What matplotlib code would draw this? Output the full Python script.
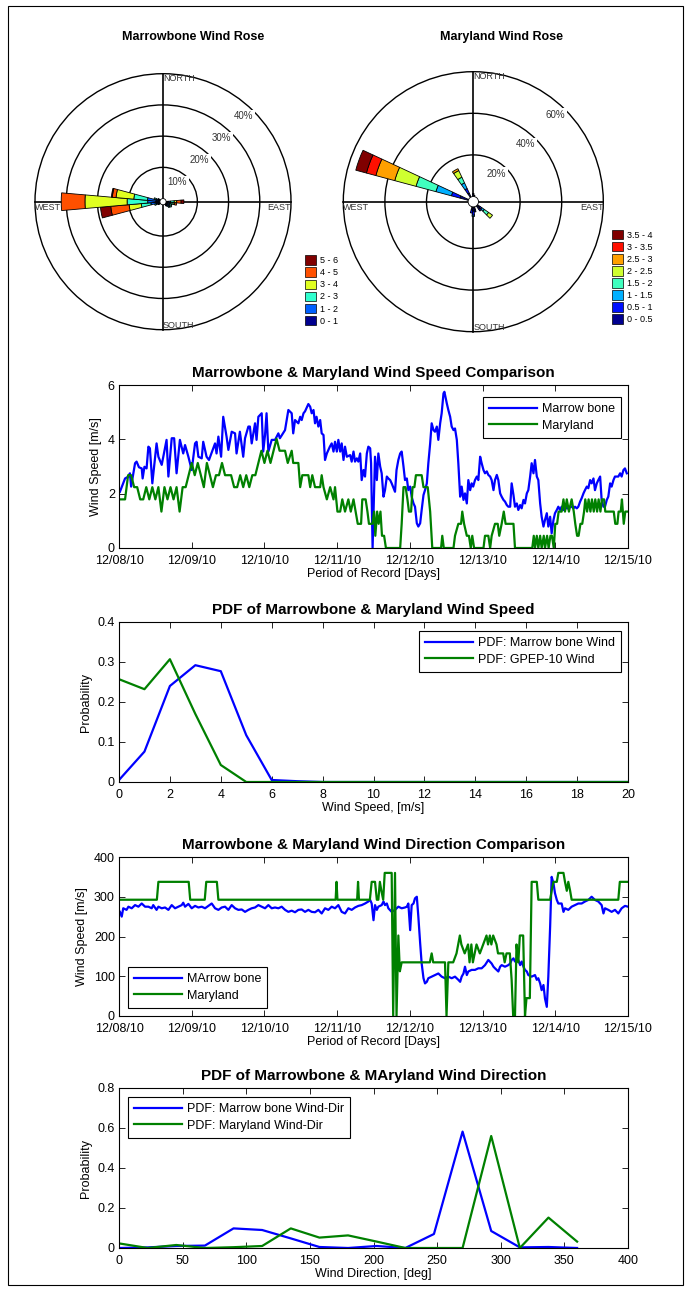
import numpy as np
import matplotlib
matplotlib.use('Agg')
import matplotlib.pyplot as plt
from matplotlib.patches import Wedge, Circle, Patch, Rectangle

plt.rcParams['font.family'] = ['Liberation Sans', 'DejaVu Sans']

# ---------------- wind rose data (percent per 10 deg sector, stacked by speed class)
mb_classes = ['0 - 1', '1 - 2', '2 - 3', '3 - 4', '4 - 5', '5 - 6']
mb_colors = ['#00008f', '#0060ff', '#30ffcf', '#e0ff20', '#ff5000', '#800000']
mb_dirs = [90, 100, 110, 120, 130, 140, 240, 250, 260, 270, 280, 290, 300]
mb_freq = [
    [0.6, 0.8, 1.2, 0.8, 1.4, 0.9],
    [0.5, 0.8, 1.0, 0.5, 0.6, 0.0],
    [0.5, 0.8, 0.6, 0.0, 0.0, 0.0],
    [0.4, 0.9, 0.8, 0.0, 0.0, 0.0],
    [0.4, 0.8, 0.5, 0.0, 0.0, 0.0],
    [0.3, 0.5, 0.0, 0.0, 0.0, 0.0],
    [0.3, 0.4, 0.0, 0.0, 0.0, 0.0],
    [0.5, 0.8, 0.5, 0.0, 0.0, 0.0],
    [1.0, 1.9, 3.1, 3.9, 5.9, 3.3],
    [1.3, 2.6, 6.6, 13.5, 7.6, 0.0],
    [1.2, 2.8, 4.4, 5.7, 1.2, 0.3],
    [0.5, 0.8, 0.7, 0.0, 0.0, 0.0],
    [0.4, 0.4, 0.0, 0.0, 0.0, 0.0],
]
mb_rings = [10, 20, 30, 40]

md_classes = ['0 - 0.5', '0.5 - 1', '1 - 1.5', '1.5 - 2', '2 - 2.5', '2.5 - 3', '3 - 3.5', '3.5 - 4']
md_colors = ['#000090', '#0010ff', '#00b0ff', '#40ffbf', '#cfff30', '#ffa000', '#ff1000', '#800000']
md_dirs = [0, 10, 130, 140, 170, 180, 190, 290, 330]
md_freq = [
    [1.0, 0.5, 0.0, 0.0, 0.0, 0.0, 0.0, 0.0],
    [0.6, 0.0, 0.0, 0.0, 0.0, 0.0, 0.0, 0.0],
    [1.5, 1.0, 1.5, 2.5, 2.3, 0.0, 0.0, 0.0],
    [2.0, 1.0, 0.0, 0.0, 0.0, 0.0, 0.0, 0.0],
    [1.5, 1.0, 0.0, 0.0, 0.0, 0.0, 0.0, 0.0],
    [2.0, 2.0, 0.6, 0.0, 0.0, 0.0, 0.0, 0.0],
    [1.5, 1.5, 0.0, 0.0, 0.0, 0.0, 0.0, 0.0],
    [4.1, 4.3, 7.7, 9.9, 10.6, 9.4, 4.7, 5.3],
    [2.0, 2.5, 3.0, 3.0, 3.5, 1.0, 0.0, 0.0],
]
md_rings = [20, 40, 60]

# ---------------- time series (hours after 12/08/10 00:00)
mb_speed = [
    (0.3, 2.07), (2.0, 2.56), (3.1, 2.63), (3.6, 2.75), (4.0, 2.26), (5.3, 3.12), (5.8, 3.18),
    (6.6, 2.97), (7.5, 2.93), (7.8, 2.56), (8.4, 2.99), (9.1, 2.93), (9.7, 3.73), (10.2, 3.67),
    (11.0, 2.38), (12.4, 3.85), (13.0, 3.36), (14.1, 3.06), (15.7, 3.98), (16.3, 2.63), (17.4, 4.04),
    (18.2, 4.04), (19.0, 2.75), (20.1, 3.98), (21.2, 3.48), (21.8, 3.79), (22.9, 3.36), (24.0, 2.87),
    (25.1, 3.85), (25.6, 3.91), (26.2, 3.36), (27.3, 3.30), (27.8, 3.91), (28.9, 3.36), (29.7, 3.24),
    (31.7, 3.85), (32.2, 3.48), (32.8, 4.10), (33.7, 3.36), (34.4, 4.83), (35.5, 4.10), (36.1, 3.61),
    (37.2, 4.28), (38.3, 4.22), (38.8, 3.48), (39.9, 4.28), (41.0, 3.36), (41.6, 4.04), (42.7, 4.47),
    (43.2, 4.47), (43.8, 3.85), (44.9, 4.59), (45.4, 3.98), (46.0, 4.83), (47.1, 4.96), (47.6, 3.55),
    (48.2, 4.16), (48.7, 4.96), (49.3, 3.55), (50.4, 3.98), (51.5, 3.98), (52.6, 4.22), (53.1, 4.04),
    (54.8, 4.34), (55.9, 5.08), (57.0, 4.96), (57.5, 4.22), (58.1, 4.71), (59.2, 4.59), (59.8, 4.83),
    (60.3, 4.71), (60.9, 4.96), (61.4, 5.03), (62.5, 5.30), (63.1, 5.20), (63.6, 4.96), (64.2, 5.08),
    (64.7, 4.59), (65.2, 4.83), (65.8, 4.47), (66.4, 4.71), (66.9, 4.22), (67.5, 4.16), (68.0, 3.24),
    (68.6, 3.48), (69.6, 3.73), (70.2, 3.85), (70.8, 3.55), (71.3, 3.91), (71.9, 3.55), (72.4, 3.98),
    (73.0, 3.55), (73.5, 3.85), (74.1, 3.24), (74.6, 3.73), (75.2, 3.36), (76.3, 3.42), (76.8, 3.18),
    (77.4, 3.55), (77.9, 3.18), (78.5, 3.30), (79.0, 3.18), (79.6, 3.48), (80.1, 2.50), (80.7, 2.87),
    (81.2, 2.63), (81.8, 3.48), (82.3, 3.73), (82.9, 3.67), (83.2, 3.12), (83.7, 0.00), (84.5, 3.36),
    (85.1, 2.50), (85.6, 3.48), (86.2, 3.00), (86.7, 2.75), (87.3, 1.89), (87.8, 2.13), (88.4, 2.63),
    (88.9, 2.56), (89.5, 2.50), (90.0, 2.38), (91.1, 2.07), (91.6, 2.87), (92.2, 3.24), (92.8, 3.48),
    (93.3, 3.55), (93.9, 3.00), (94.4, 2.50), (95.0, 2.56), (95.5, 2.13), (96.1, 2.26), (96.6, 1.89),
    (97.2, 1.64), (97.7, 1.52), (98.3, 0.91), (98.8, 0.79), (99.4, 0.91), (99.9, 1.40), (100.5, 1.95),
    (101.0, 2.13), (101.6, 2.38), (102.1, 3.12), (102.7, 3.85), (103.2, 4.59), (103.8, 4.34),
    (104.3, 4.28), (104.9, 4.47), (105.4, 3.98), (106.0, 4.59), (106.5, 4.96), (107.1, 5.69),
    (107.4, 5.75), (108.2, 5.32), (108.7, 5.08), (109.3, 4.83), (109.8, 4.47), (110.4, 4.34),
    (110.9, 4.40), (111.5, 3.98), (112.0, 3.12), (112.6, 1.89), (113.1, 2.26), (113.7, 1.77),
    (114.2, 2.01), (114.8, 1.64), (115.3, 2.50), (115.9, 2.13), (116.4, 2.38), (116.9, 2.26),
    (117.5, 2.50), (118.1, 2.63), (118.6, 2.50), (119.2, 3.36), (119.7, 3.12), (120.3, 2.87),
    (120.8, 2.75), (121.4, 2.82), (121.9, 2.69), (122.5, 2.63), (123.0, 2.50), (123.6, 2.13),
    (124.1, 2.50), (124.7, 2.69), (125.2, 2.50), (125.8, 2.01), (126.3, 1.89), (126.9, 1.77),
    (127.4, 1.71), (128.0, 1.58), (128.5, 1.52), (129.1, 1.52), (129.6, 2.38), (130.2, 1.95),
    (130.7, 1.52), (131.3, 1.64), (131.8, 1.40), (132.4, 1.58), (132.9, 1.46), (133.5, 1.77),
    (134.0, 1.64), (134.6, 2.01), (135.1, 2.13), (135.7, 2.63), (136.2, 3.12), (136.8, 2.75),
    (137.3, 3.24), (137.9, 2.63), (138.4, 2.50), (139.0, 1.64), (139.5, 1.15), (140.1, 0.79),
    (140.6, 1.03), (141.2, 1.28), (141.7, 0.79), (142.3, 1.15), (142.8, 0.54), (143.4, 1.03),
    (143.9, 1.28), (144.5, 1.40), (145.0, 1.52), (145.6, 1.40), (146.1, 1.52), (146.7, 1.40),
    (147.2, 1.58), (147.8, 1.46), (148.3, 1.46), (148.9, 1.52), (149.4, 1.52), (150.0, 1.46),
    (150.5, 1.52), (151.1, 1.46), (151.6, 1.52), (152.2, 1.71), (152.7, 1.83), (153.3, 2.01),
    (153.8, 2.13), (154.4, 2.26), (154.9, 2.20), (155.5, 2.50), (156.0, 2.38), (156.6, 2.56),
    (157.1, 2.13), (157.7, 2.38), (158.2, 2.50), (158.8, 2.63), (159.3, 1.77), (159.9, 1.52),
    (160.4, 1.52), (161.0, 1.77), (161.5, 1.89), (162.1, 2.38), (162.6, 2.26), (163.2, 2.50),
    (163.7, 2.63), (164.3, 2.63), (164.8, 2.63), (165.4, 2.75), (165.9, 2.63), (166.5, 2.87),
    (167.0, 2.93), (167.6, 2.75),
]
md_speed = [
    (0, 1.79), (1, 1.79), (2, 1.79), (3, 2.68), (4, 2.68), (5, 2.24), (6, 2.24), (7, 1.79), (8, 1.79),
    (9, 2.24), (10, 1.79), (11, 2.24), (12, 1.79), (13, 2.24), (14, 1.34), (15, 2.24), (16, 1.79),
    (17, 2.24), (18, 1.79), (19, 2.24), (20, 1.34), (21, 2.24), (22, 2.24), (23, 2.68), (24, 3.13),
    (25, 2.68), (26, 3.13), (27, 2.68), (28, 2.24), (29, 3.13), (30, 2.68), (31, 2.24), (32, 2.68),
    (33, 2.68), (34, 3.13), (35, 2.68), (36, 2.68), (37, 2.68), (38, 2.24), (39, 2.24), (40, 2.68),
    (41, 2.24), (42, 2.68), (43, 2.24), (44, 2.68), (45, 2.68), (46, 3.13), (47, 3.58), (48, 3.13),
    (49, 3.58), (50, 3.13), (51, 3.58), (52, 4.02), (53, 3.58), (54.8, 3.58), (55.7, 3.13),
    (57.0, 3.58), (57.5, 3.13), (59.2, 3.13), (59.8, 2.24), (60.5, 2.68), (62.5, 2.68), (63.1, 2.24),
    (63.8, 2.68), (64.7, 2.24), (66.4, 2.24), (66.9, 2.68), (67.5, 2.24), (68.6, 1.79), (69.7, 2.24),
    (70.8, 1.79), (71.3, 2.24), (72.1, 1.34), (73.0, 1.34), (73.7, 1.79), (74.6, 1.34), (75.7, 1.79),
    (76.5, 1.34), (77.4, 1.79), (78.1, 1.34), (78.8, 0.89), (79.9, 0.89), (80.3, 1.79), (81.4, 1.79),
    (82.0, 1.34), (82.5, 0.89), (83.6, 0.89), (84.2, 1.34), (84.6, 0.45), (85.2, 1.34), (85.7, 0.89),
    (86.3, 1.34), (86.8, 0.45), (87.5, 0.45), (88.1, 0.00), (92.8, 0.00), (93.3, 0.89), (93.9, 2.24),
    (94.6, 2.24), (95.2, 1.79), (95.7, 1.34), (96.4, 1.34), (96.9, 2.24), (97.5, 2.24), (98.0, 2.68),
    (99.9, 2.68), (100.5, 2.24), (101.9, 2.24), (102.7, 1.34), (103.4, 0.00), (106.3, 0.00),
    (106.7, 0.45), (107.2, 0.00), (110.4, 0.00), (110.9, 0.45), (112.0, 0.89), (112.9, 0.89),
    (113.3, 1.34), (113.9, 0.89), (114.8, 0.45), (115.5, 0.45), (116.1, 0.00), (116.6, 0.45),
    (117.2, 0.00), (120.3, 0.00), (120.8, 0.45), (121.9, 0.45), (122.5, 0.00), (123.0, 0.45),
    (124.1, 0.89), (125.0, 0.89), (125.5, 0.45), (126.3, 0.89), (127.0, 1.34), (127.6, 0.89),
    (130.2, 0.89), (130.7, 0.00), (136.4, 0.00), (136.9, 0.45), (137.3, 0.00), (137.9, 0.45),
    (138.4, 0.00), (139.0, 0.45), (139.5, 0.00), (140.2, 0.45), (140.6, 0.00), (141.3, 0.45),
    (141.8, 0.00), (142.4, 0.45), (142.9, 0.45), (143.5, 0.00), (144.0, 0.89), (144.6, 0.89),
    (145.1, 1.34), (146.1, 1.34), (146.7, 1.79), (147.2, 1.34), (147.8, 1.79), (148.5, 1.34),
    (149.4, 1.79), (150.1, 1.34), (150.6, 0.89), (151.2, 0.45), (151.7, 0.45), (152.3, 0.89),
    (152.9, 0.89), (153.5, 1.34), (153.9, 1.79), (154.5, 1.34), (155.0, 1.79), (155.6, 1.34),
    (156.1, 1.79), (156.7, 1.34), (157.2, 1.79), (157.8, 1.34), (158.3, 1.79), (158.9, 1.34),
    (159.4, 1.79), (160.1, 1.79), (160.5, 1.34), (163.3, 1.34), (163.8, 0.89), (164.5, 0.89),
    (164.9, 1.34), (165.6, 1.34), (166.0, 1.79), (166.6, 0.89), (167.1, 1.34), (167.9, 1.34),
]
mb_dir = [
    (0.3, 262), (0.9, 250), (1.4, 271), (2.5, 267), (3.1, 275), (4.2, 271), (5.3, 279), (6.4, 275),
    (7.5, 283), (8.6, 275), (9.7, 275), (10.8, 271), (11.3, 279), (12.4, 267), (13.0, 275), (14.1, 271),
    (15.2, 273), (16.3, 267), (17.4, 279), (18.5, 271), (19.6, 275), (20.7, 279), (21.2, 285), (21.8, 275),
    (22.9, 282), (24.0, 271), (25.1, 277), (26.2, 273), (27.3, 275), (28.4, 271), (29.5, 277), (30.6, 283),
    (31.7, 271), (32.8, 267), (33.9, 273), (35.0, 275), (36.1, 267), (37.2, 279), (38.3, 271), (39.4, 267),
    (40.5, 268), (41.6, 262), (42.7, 267), (43.8, 271), (44.9, 273), (46.0, 279), (47.1, 275), (48.2, 271),
    (49.3, 279), (50.4, 271), (51.5, 273), (52.6, 271), (53.7, 275), (54.8, 267), (55.9, 262), (57.0, 265),
    (58.1, 261), (59.2, 267), (60.3, 268), (61.4, 262), (62.5, 267), (63.6, 262), (64.7, 261), (65.8, 267),
    (66.9, 258), (68.0, 271), (69.1, 267), (70.2, 275), (71.3, 271), (72.4, 279), (73.5, 262), (74.6, 258),
    (75.7, 271), (76.8, 267), (77.9, 273), (79.0, 277), (80.1, 279), (81.2, 283), (82.3, 288), (82.9, 292),
    (83.4, 283), (84.0, 241), (84.5, 279), (85.1, 267), (85.6, 275), (86.7, 279), (87.3, 288), (87.8, 279),
    (88.4, 283), (88.9, 271), (90.0, 262), (91.1, 267), (92.2, 275), (93.3, 271), (94.4, 273), (95.0, 275),
    (95.5, 283), (96.1, 216), (96.6, 279), (97.2, 283), (97.7, 296), (98.3, 300), (98.8, 250), (99.4, 183),
    (99.9, 132), (100.5, 95), (101.0, 82), (101.6, 86), (102.1, 95), (103.2, 99), (104.3, 103), (105.4, 107),
    (106.5, 99), (107.6, 95), (108.7, 99), (109.8, 95), (110.9, 99), (112.0, 91), (112.6, 86), (113.1, 99),
    (113.7, 107), (114.2, 124), (114.8, 103), (115.3, 112), (116.4, 116), (117.5, 116), (118.6, 120),
    (119.7, 120), (120.8, 128), (121.9, 141), (123.0, 132), (123.6, 124), (124.1, 120), (125.2, 112),
    (125.8, 124), (126.3, 128), (127.4, 124), (128.5, 128), (129.1, 132), (129.6, 141), (130.2, 145),
    (130.7, 137), (131.8, 141), (132.4, 128), (132.9, 137), (133.5, 124), (134.0, 116), (134.6, 112),
    (135.1, 103), (136.2, 99), (137.3, 103), (137.9, 91), (138.4, 95), (139.0, 82), (139.5, 65), (140.1, 78),
    (140.6, 44), (141.2, 23), (141.7, 99), (142.3, 225), (142.8, 350), (143.4, 334), (143.9, 309),
    (144.5, 292), (145.0, 283), (146.1, 283), (146.7, 262), (147.2, 271), (148.3, 267), (149.4, 275),
    (150.5, 279), (151.6, 283), (152.7, 283), (153.8, 288), (154.9, 292), (156.0, 300), (157.1, 292),
    (158.2, 288), (159.3, 279), (159.9, 258), (160.4, 271), (161.5, 267), (162.6, 262), (163.7, 267),
    (164.8, 258), (165.9, 271), (167.0, 277), (168.0, 275),
]
md_dir = [
    (0, 292.5), (12.5, 292.5), (13.0, 337.5), (23.0, 337.5), (23.5, 292.5), (28.3, 292.5), (28.8, 337.5),
    (32.3, 337.5), (32.8, 292.5), (71.5, 292.5), (71.8, 337.5), (72.1, 292.5), (78.6, 292.5), (78.9, 337.5),
    (79.2, 292.5), (82.8, 292.5), (83.4, 337.5), (84.5, 337.5), (85.1, 292.5), (85.6, 292.5), (86.1, 337.5),
    (86.6, 315), (87.2, 292.5), (87.7, 360), (90.0, 360), (90.5, 0), (91.1, 360), (91.6, 0), (92.2, 202.5),
    (92.7, 112.5), (93.3, 135), (102.6, 135), (103.2, 157.5), (103.7, 135), (107.6, 135), (108.1, 0),
    (108.7, 135), (110.3, 135), (111.4, 157.5), (112.5, 202.5), (113.0, 180), (114.1, 157.5), (115.2, 180),
    (115.7, 135), (116.3, 180), (116.8, 135), (118.0, 180), (119.1, 157.5), (120.2, 180), (121.3, 202.5),
    (121.8, 180), (122.4, 202.5), (122.9, 180), (123.5, 202.5), (124.6, 180), (125.1, 157.5), (126.8, 157.5),
    (127.3, 135), (127.9, 157.5), (129.0, 157.5), (129.6, 90), (130.1, 0), (130.7, 0), (131.2, 180),
    (131.8, 135), (132.3, 202.5), (133.4, 202.5), (134.0, 0), (134.5, 45), (135.6, 45), (136.2, 337.5),
    (137.9, 337.5), (138.4, 292.5), (142.3, 292.5), (142.8, 315), (143.4, 337.5), (144.5, 337.5),
    (145.0, 360), (146.7, 360), (147.2, 337.5), (147.8, 315), (148.3, 337.5), (148.9, 315), (149.4, 292.5),
    (164.8, 292.5), (165.3, 337.5), (167.9, 337.5),
]
date_labels = ['12/08/10', '12/09/10', '12/10/10', '12/11/10', '12/12/10', '12/13/10', '12/14/10', '12/15/10']

# ---------------- probability density functions
pdf_speed_bins = list(range(0, 21))
pdf_mb_speed = [0.005, 0.076, 0.24, 0.292, 0.277, 0.117, 0.005, 0.002] + [0.0] * 13
pdf_md_speed = [0.257, 0.232, 0.307, 0.17, 0.0425] + [0.0] * 16
pdf_dir_bins = [0, 22.5, 45, 67.5, 90, 112.5, 135, 157.5, 180, 202.5, 225, 247.5, 270, 292.5, 315, 337.5, 360]
pdf_mb_dir = [0.0, 0.003, 0.01, 0.012, 0.098, 0.09, 0.048, 0.005, 0.0, 0.01, 0.0, 0.07, 0.582, 0.085, 0.003, 0.005, 0.0]
pdf_md_dir = [0.023, 0.0, 0.015, 0.0, 0.004, 0.01, 0.098, 0.052, 0.063, 0.032, 0.0, 0.0, 0.0, 0.56, 0.0, 0.152, 0.032]

W, H = 691, 1291
fig = plt.figure(figsize=(W / 100, H / 100), dpi=100)
fig.patch.set_facecolor('white')


def px_axes(left, top, right, bottom):
    return fig.add_axes([left / W, 1 - bottom / H, (right - left) / W, (bottom - top) / H])


def draw_rose(ax, dirs, freq, colors, rings, r0, width=10):
    R = r0 + rings[-1]
    for r in rings:
        ax.add_patch(Circle((0, 0), r0 + r, fill=False, ec='k', lw=1.0, zorder=1, clip_on=False))
    ax.plot([-R, R], [0, 0], color='k', lw=1.2, zorder=1, clip_on=False)
    ax.plot([0, 0], [-R, R], color='k', lw=1.2, zorder=1, clip_on=False)
    for d, row in zip(dirs, freq):
        inner = r0
        for pct, col in zip(row, colors):
            if pct <= 0:
                continue
            outer = inner + pct
            ax.add_patch(Wedge((0, 0), outer, 90 - d - width / 2, 90 - d + width / 2,
                               width=outer - inner, fc=col, ec='k', lw=0.6, zorder=3))
            inner = outer
    ax.add_patch(Circle((0, 0), r0, fc='white', ec='k', lw=0.6, zorder=4))
    a = np.deg2rad(45)
    for r in rings:
        ax.text((r0 + r) * np.cos(a), (r0 + r) * np.sin(a), f'{r}%', ha='right', va='top',
                fontsize=7, color='#333333', zorder=5,
                bbox=dict(fc='white', ec='none', pad=1.2))
    kw = dict(fontsize=6.5, color='#333333', zorder=5)
    ax.text(0, R, 'NORTH', ha='left', va='top', **kw)
    ax.text(0, -R, 'SOUTH', ha='left', va='bottom', **kw)
    ax.text(-R, -0.5, 'WEST', ha='left', va='top', **kw)
    ax.text(R, -0.5, 'EAST', ha='right', va='top', **kw)
    ax.set_xlim(-R, R)
    ax.set_ylim(-R, R)
    ax.set_aspect('equal')
    ax.axis('off')


ax_r1 = px_axes(35, 73.7, 291, 329.7)
draw_rose(ax_r1, mb_dirs, mb_freq, mb_colors, mb_rings, 1.0)
ax_r2 = px_axes(343.3, 71.7, 603.3, 331.7)
draw_rose(ax_r2, md_dirs, md_freq, md_colors, md_rings, 2.5)

fig.text(193 / W, 1 - 37 / H, 'Marrowbone Wind Rose', ha='center', va='center', fontsize=9, fontweight='bold')
fig.text(502 / W, 1 - 37 / H, 'Maryland Wind Rose', ha='center', va='center', fontsize=9, fontweight='bold')

for classes, colors, x, yc in [(mb_classes, mb_colors, 305, 290.5), (md_classes, md_colors, 612, 277)]:
    handles = [Patch(fc=c, ec='k', lw=0.5) for c in colors][::-1]
    fig.legend(handles, classes[::-1], loc='center left', bbox_to_anchor=(x / W, 1 - yc / H),
               frameon=False, fontsize=6.5, handlelength=1.25, handleheight=1.25, handletextpad=0.4,
               labelspacing=0.25, borderpad=0, borderaxespad=0)


def style(ax):
    ax.tick_params(direction='in', top=True, right=True, length=4, width=0.6, labelsize=9, pad=3)
    ax.tick_params(axis='x', pad=5)
    for s in ax.spines.values():
        s.set_linewidth(0.8)


def legend(ax, loc, anchor):
    leg = ax.legend(loc=loc, bbox_to_anchor=anchor, fontsize=9, handlelength=3.8, handletextpad=0.4,
                    borderaxespad=0, fancybox=False, framealpha=1, edgecolor='k', borderpad=0.5,
                    labelspacing=0.35)
    leg.get_frame().set_linewidth(0.8)


blue = '#0000ff'
green = '#008000'

# wind speed comparison
ax1 = px_axes(119, 385, 628, 548)
t, v = zip(*mb_speed)
ax1.plot(np.array(t) / 24, v, color=blue, lw=1.6, label='Marrow bone')
t, v = zip(*md_speed)
ax1.plot(np.array(t) / 24, v, color=green, lw=1.6, label='Maryland')
ax1.set_xlim(0, 7)
ax1.set_ylim(0, 6)
ax1.set_yticks([0, 2, 4, 6])
ax1.set_xticks(range(8))
ax1.set_xticklabels(date_labels)
ax1.set_title('Marrowbone & Maryland Wind Speed Comparison', fontsize=11, fontweight='bold', pad=6)
ax1.set_xlabel('Period of Record [Days]', fontsize=9, labelpad=1)
ax1.set_ylabel('Wind Speed [m/s]', fontsize=9)
style(ax1)
legend(ax1, 'upper right', (1 - 7 / 509, 1 - 12 / 163))

# pdf of wind speed
ax2 = px_axes(119, 622, 628, 782)
ax2.plot(pdf_speed_bins, pdf_mb_speed, color=blue, lw=1.6, label='PDF: Marrow bone Wind')
ax2.plot(pdf_speed_bins, pdf_md_speed, color=green, lw=1.6, label='PDF: GPEP-10 Wind')
ax2.set_xlim(0, 20)
ax2.set_ylim(0, 0.4)
ax2.set_xticks(range(0, 21, 2))
ax2.set_yticks([0, 0.1, 0.2, 0.3, 0.4])
ax2.set_yticklabels(['0', '0.1', '0.2', '0.3', '0.4'])
ax2.set_title('PDF of Marrowbone & Maryland Wind Speed', fontsize=11, fontweight='bold', pad=6)
ax2.set_xlabel('Wind Speed, [m/s]', fontsize=9, labelpad=1)
ax2.set_ylabel('Probability', fontsize=9)
style(ax2)
legend(ax2, 'upper right', (1 - 7 / 509, 1 - 9 / 160))

# wind direction comparison
ax3 = px_axes(119, 857, 628, 1016)
t, v = zip(*mb_dir)
ax3.plot(np.array(t) / 24, v, color=blue, lw=1.6, label='MArrow bone')
t, v = zip(*md_dir)
ax3.plot(np.array(t) / 24, v, color=green, lw=1.6, label='Maryland')
ax3.set_xlim(0, 7)
ax3.set_ylim(0, 400)
ax3.set_yticks(range(0, 401, 100))
ax3.set_xticks(range(8))
ax3.set_xticklabels(date_labels)
ax3.set_title('Marrowbone & Maryland Wind Direction Comparison', fontsize=11, fontweight='bold', pad=6)
ax3.set_xlabel('Period of Record [Days]', fontsize=9, labelpad=1)
ax3.set_ylabel('Wind Speed [m/s]', fontsize=9)
style(ax3)
legend(ax3, 'lower left', (9 / 509, 8 / 159))

# pdf of wind direction
ax4 = px_axes(119, 1088, 628, 1248)
ax4.plot(pdf_dir_bins, pdf_mb_dir, color=blue, lw=1.6, label='PDF: Marrow bone Wind-Dir')
ax4.plot(pdf_dir_bins, pdf_md_dir, color=green, lw=1.6, label='PDF: Maryland Wind-Dir')
ax4.set_xlim(0, 400)
ax4.set_ylim(0, 0.8)
ax4.set_xticks(range(0, 401, 50))
ax4.set_yticks([0, 0.2, 0.4, 0.6, 0.8])
ax4.set_yticklabels(['0', '0.2', '0.4', '0.6', '0.8'])
ax4.set_title('PDF of Marrowbone & MAryland Wind Direction', fontsize=11, fontweight='bold', pad=6)
ax4.set_xlabel('Wind Direction, [deg]', fontsize=9, labelpad=1)
ax4.set_ylabel('Probability', fontsize=9)
style(ax4)
legend(ax4, 'upper left', (9 / 509, 1 - 9 / 160))

fig.add_artist(Rectangle((8 / W, 6 / H), 675 / W, 1279 / H, transform=fig.transFigure,
                         fill=False, ec='k', lw=0.8))

fig.savefig('out.png', dpi=100)
